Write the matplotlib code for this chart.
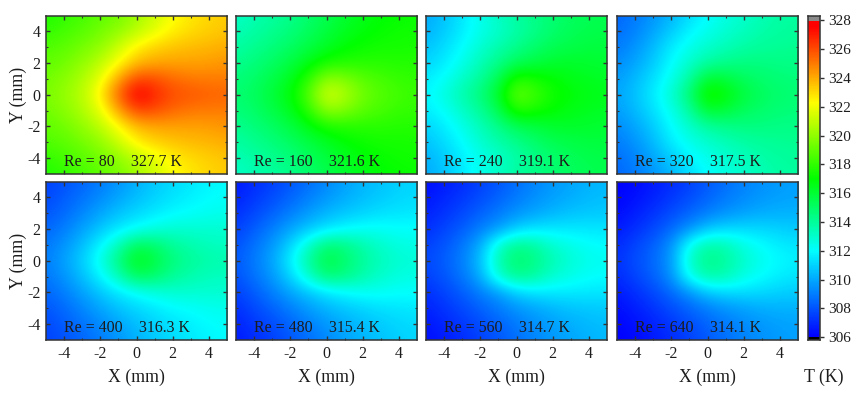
import numpy as np
import matplotlib
matplotlib.use('Agg')
import matplotlib.pyplot as plt
from matplotlib.colors import LinearSegmentedColormap, Normalize

plt.rcParams['font.family'] = ['Liberation Serif', 'DejaVu Serif']
plt.rcParams['axes.unicode_minus'] = False

# temperature, rows are Y = 0,1,2,3,4,5 and columns X = -5..5
# the fields are about symmetric in Y so only the upper half is kept
t_re80 = [[319.5, 320.1, 320.8, 322.6, 325.6, 327.9, 326.8, 326.0, 325.8, 325.6, 325.5],
          [319.3, 319.8, 320.6, 321.8, 324.2, 326.2, 326.0, 325.4, 325.1, 325.0, 325.0],
          [319.0, 319.3, 320.0, 320.9, 322.3, 323.7, 324.1, 324.2, 324.2, 324.3, 324.5],
          [318.6, 318.9, 319.4, 320.0, 321.2, 322.6, 323.2, 323.5, 323.7, 323.8, 324.0],
          [318.0, 318.4, 318.8, 319.4, 320.0, 320.9, 321.8, 322.6, 323.0, 323.3, 323.5],
          [317.6, 318.0, 318.4, 318.9, 319.4, 320.3, 321.3, 322.2, 322.8, 323.1, 323.4]]
t_re160 = [[314.8, 315.2, 315.9, 316.8, 318.7, 321.6, 320.6, 319.3, 318.7, 318.3, 318.2],
           [314.6, 315.0, 315.6, 316.4, 317.9, 320.0, 319.6, 318.8, 318.4, 318.1, 318.0],
           [314.2, 314.6, 315.1, 315.7, 316.6, 317.5, 317.7, 317.8, 317.8, 317.7, 317.7],
           [313.8, 314.2, 314.6, 315.1, 315.7, 316.3, 316.9, 317.2, 317.4, 317.4, 317.5],
           [313.4, 313.8, 314.2, 314.6, 315.2, 315.8, 316.4, 316.8, 317.1, 317.3, 317.3],
           [313.1, 313.5, 313.9, 314.3, 314.9, 315.5, 316.1, 316.6, 316.9, 317.1, 317.2]]
t_re240 = [[311.8, 312.6, 313.6, 314.6, 316.2, 319.2, 318.3, 317.3, 316.9, 316.6, 316.5],
           [311.6, 312.1, 313.1, 314.0, 315.4, 317.8, 317.4, 317.0, 316.6, 316.4, 316.3],
           [311.0, 311.6, 312.4, 313.4, 314.3, 315.3, 315.7, 316.1, 316.2, 316.1, 316.0],
           [310.6, 311.2, 312.0, 312.9, 313.6, 314.3, 314.9, 315.4, 315.6, 315.8, 315.8],
           [310.2, 310.8, 311.6, 312.4, 313.0, 313.7, 314.3, 314.9, 315.3, 315.5, 315.6],
           [310.0, 310.6, 311.5, 312.4, 313.2, 313.9, 314.4, 314.8, 315.2, 315.4, 315.5]]
t_re320 = [[309.9, 310.6, 311.6, 312.9, 314.8, 317.7, 316.9, 315.8, 315.2, 314.9, 314.8],
           [309.7, 310.4, 311.3, 312.4, 313.9, 316.2, 315.8, 315.2, 314.9, 314.7, 314.6],
           [309.3, 309.9, 310.8, 312.0, 313.0, 313.9, 314.3, 314.5, 314.5, 314.4, 314.4],
           [308.9, 309.5, 310.4, 311.6, 312.4, 313.0, 313.4, 313.8, 314.0, 314.1, 314.2],
           [308.6, 309.1, 309.9, 310.8, 311.8, 312.4, 312.9, 313.3, 313.7, 313.9, 314.0],
           [308.4, 308.9, 309.5, 310.3, 311.2, 312.0, 312.6, 313.0, 313.5, 313.8, 313.9]]
t_re400 = [[309.0, 309.8, 310.9, 312.5, 314.6, 316.7, 315.7, 314.6, 314.0, 313.7, 313.6],
           [308.8, 309.5, 310.5, 311.8, 313.4, 315.3, 314.9, 314.0, 313.6, 313.3, 313.2],
           [308.4, 309.0, 309.8, 310.7, 311.5, 312.1, 312.6, 312.9, 312.9, 312.9, 312.9],
           [308.0, 308.5, 309.2, 309.9, 310.6, 311.1, 311.5, 311.9, 312.1, 312.3, 312.4],
           [307.7, 308.2, 308.7, 309.3, 309.9, 310.5, 311.0, 311.4, 311.7, 312.0, 312.1],
           [307.5, 307.9, 308.4, 308.9, 309.5, 310.2, 310.7, 311.2, 311.5, 311.8, 312.0]]
t_re480 = [[308.1, 308.9, 309.9, 311.7, 314.0, 315.8, 314.9, 314.0, 313.3, 312.9, 312.8],
           [307.9, 308.7, 309.6, 311.0, 313.0, 314.8, 314.4, 313.6, 313.0, 312.6, 312.5],
           [307.5, 308.2, 309.0, 309.9, 310.7, 311.4, 311.9, 312.2, 312.2, 312.1, 312.1],
           [307.1, 307.7, 308.3, 309.0, 309.7, 310.3, 310.7, 311.0, 311.3, 311.4, 311.5],
           [306.8, 307.3, 307.8, 308.4, 309.0, 309.6, 310.1, 310.5, 310.8, 311.1, 311.2],
           [306.6, 307.0, 307.5, 308.0, 308.6, 309.2, 309.8, 310.3, 310.6, 310.9, 311.1]]
t_re560 = [[307.7, 308.2, 309.0, 310.5, 313.6, 315.0, 314.4, 313.5, 312.8, 312.4, 312.3],
           [307.5, 308.0, 308.8, 310.0, 312.9, 314.3, 313.9, 312.9, 312.5, 312.1, 312.0],
           [307.1, 307.6, 308.2, 309.0, 309.7, 310.9, 311.4, 311.5, 311.5, 311.5, 311.4],
           [306.8, 307.2, 307.7, 308.3, 308.9, 309.5, 309.9, 310.3, 310.6, 310.7, 310.8],
           [306.5, 306.9, 307.3, 307.8, 308.3, 308.9, 309.4, 309.8, 310.1, 310.4, 310.5],
           [306.3, 306.6, 307.0, 307.5, 308.0, 308.6, 309.1, 309.6, 309.9, 310.2, 310.4]]
t_re640 = [[307.2, 307.8, 308.5, 309.6, 313.2, 314.4, 313.9, 313.0, 312.3, 311.9, 311.7],
           [307.0, 307.6, 308.3, 309.4, 312.4, 313.8, 313.5, 312.5, 312.0, 311.6, 311.4],
           [306.6, 307.1, 307.7, 308.5, 309.5, 310.7, 311.1, 311.2, 311.1, 310.9, 310.8],
           [306.3, 306.7, 307.2, 307.8, 308.4, 309.0, 309.5, 309.8, 310.1, 310.2, 310.2],
           [306.1, 306.4, 306.8, 307.3, 307.8, 308.4, 308.9, 309.3, 309.6, 309.8, 309.9],
           [306.0, 306.2, 306.6, 307.0, 307.5, 308.1, 308.6, 309.1, 309.4, 309.7, 309.8]]

fields = [t_re80, t_re160, t_re240, t_re320, t_re400, t_re480, t_re560, t_re640]
re_labels = ['Re = 80', 'Re = 160', 'Re = 240', 'Re = 320',
             'Re = 400', 'Re = 480', 'Re = 560', 'Re = 640']
t_labels = ['327.7 K', '321.6 K', '319.1 K', '317.5 K',
            '316.3 K', '315.4 K', '314.7 K', '314.1 K']
cbar_ticks = [306, 308, 310, 312, 314, 316, 318, 320, 322, 324, 326, 328]

T_MIN, T_MAX = 306, 328
W, H = 865, 395
DARK = '#333333'
TEXT = '#1c1c1c'


def px_axes(fig, x0, x1, y0, y1):
    # pixel box measured from the top left of the image
    return fig.add_axes([x0 / W, 1 - y1 / H, (x1 - x0) / W, (y1 - y0) / H])


def t_pos(t):
    return (t - T_MIN) / (T_MAX - T_MIN)


cmap = LinearSegmentedColormap.from_list('rainbow_t', [
    (t_pos(306), (0, 0, 1)),
    (t_pos(312), (0, 1, 1)),
    (t_pos(317), (0, 1, 0)),
    (t_pos(322.3), (1, 1, 0)),
    (t_pos(327.6), (1, 0, 0)),
    (t_pos(328), (1, 0, 0)),
], N=512)
cmap.set_over('#8a8a8a')
cmap.set_under('#000000')

fig = plt.figure(figsize=(W / 100, H / 100), dpi=100)

col_x = [(46, 227), (236, 417), (426, 607), (617, 798)]
row_y = [(15.5, 174), (181.5, 340)]

for i, field in enumerate(fields):
    row, col = divmod(i, 4)
    ax = px_axes(fig, *col_x[col], *row_y[row])
    half = np.array(field)
    full = np.vstack([half[::-1], half[1:]])
    ax.imshow(full, origin='lower', extent=(-5.5, 5.5, -5.5, 5.5), aspect='auto',
              cmap=cmap, norm=Normalize(T_MIN, T_MAX, clip=True),
              interpolation='bicubic', interpolation_stage='data')
    ax.set_xlim(-5, 5)
    ax.set_ylim(-5, 5)
    ax.set_xticks([-4, -2, 0, 2, 4])
    ax.set_yticks([-4, -2, 0, 2, 4])
    ax.set_xticks([-3, -1, 1, 3], minor=True)
    ax.set_yticks([-3, -1, 1, 3], minor=True)
    ax.tick_params(which='major', direction='in', top=True, right=True, length=3,
                   width=1, color=DARK, labelsize=11.5, labelcolor=TEXT, pad=4,
                   labelbottom=row == 1, labelleft=col == 0)
    ax.tick_params(which='minor', direction='in', top=True, right=True, length=1.5,
                   width=0.8, color=DARK)
    for s in ax.spines.values():
        s.set_color(DARK)
        s.set_linewidth(1.1)
    ax.text(-3.98, -4.5, re_labels[i], fontsize=11.4, color=TEXT, va='baseline')
    ax.text(-0.3 if i == 0 else 0.14, -4.5, t_labels[i], fontsize=11.4, color=TEXT, va='baseline')
    if row == 1:
        fig.text(sum(col_x[col]) / 2 / W, 1 - 377 / H, 'X (mm)', fontsize=12.8,
                 color=TEXT, ha='center', va='center')
    if col == 0:
        fig.text(18 / W, 1 - (sum(row_y[row]) / 2) / H, 'Y (mm)', fontsize=12.8,
                 color=TEXT, ha='center', va='center', rotation=90)

# colour bar, the small caps above 328 and below 306 come from set_over/set_under
cax = px_axes(fig, 808, 820, 16, 340)
lo, hi = 305.8, 328.3
grad = np.linspace(lo, hi, 400).reshape(-1, 1)
cax.imshow(grad, origin='lower', extent=(0, 1, lo, hi), aspect='auto', cmap=cmap,
           norm=Normalize(T_MIN, T_MAX), interpolation='nearest')
cax.set_xlim(0, 1)
cax.set_ylim(lo, hi)
cax.set_xticks([])
cax.set_yticks(cbar_ticks)
cax.yaxis.tick_right()
cax.tick_params(direction='out', length=3, width=1, color=DARK, labelsize=11,
                labelcolor=TEXT, pad=3)
for s in cax.spines.values():
    s.set_color(DARK)
    s.set_linewidth(1.1)
fig.text(824 / W, 1 - 377 / H, 'T (K)', fontsize=12.8, color=TEXT, ha='center', va='center')

fig.savefig('out.png', dpi=100)
